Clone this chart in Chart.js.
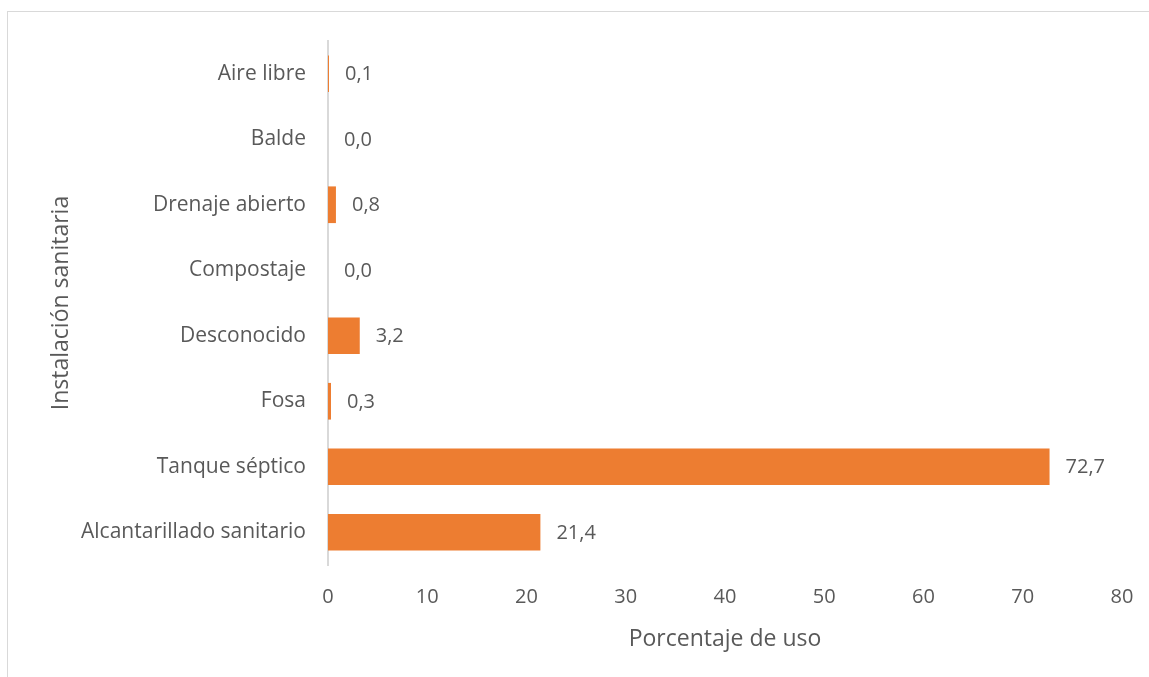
<!DOCTYPE html>
<html lang="es">
<head>
<meta charset="UTF-8">
<script src="https://cdn.jsdelivr.net/npm/chart.js"></script>
<title>Instalación sanitaria</title>
<style>
  body { margin: 0; background: #fff; }
  #wrap { position: relative; width: 1149px; height: 677px; }
  #frame { position: absolute; left: 7px; top: 11px; width: 1150px; height: 680px; border: 1px solid #d9d9d9; box-sizing: border-box; }
  canvas { position: absolute; left: 0; top: 0; }
</style>
</head>
<body>
<div id="wrap">
  <div id="frame"></div>
  <canvas id="myChart" width="1149" height="677"></canvas>
</div>
<script>
var categories = ['Aire libre', 'Balde', 'Drenaje abierto', 'Compostaje', 'Desconocido', 'Fosa', 'Tanque séptico', 'Alcantarillado sanitario'];
var usage = [0.1, 0.0, 0.8, 0.0, 3.2, 0.3, 72.7, 21.4];
var xTicks = [0, 10, 20, 30, 40, 50, 60, 70, 80];

var fontName = '"Open Sans", sans-serif';
var textColor = '#595959';

// draw the value next to every bar
var valueLabels = {
    id: 'valueLabels',
    afterDatasetsDraw: function (chart) {
        var ctx = chart.ctx;
        var meta = chart.getDatasetMeta(0);
        ctx.save();
        ctx.font = '20px ' + fontName;
        ctx.fillStyle = textColor;
        ctx.textAlign = 'left';
        ctx.textBaseline = 'middle';
        meta.data.forEach(function (bar, i) {
            var txt = usage[i].toFixed(1).replace('.', ',');
            ctx.fillText(txt, bar.x + 16, bar.y + 1);
        });
        ctx.restore();
    }
};

var ctx = document.getElementById('myChart').getContext('2d');
var chart = new Chart(ctx, {
    type: 'bar',
    data: {
        labels: categories,
        datasets: [{
            data: usage,
            backgroundColor: '#ED7D31',
            borderWidth: 0,
            categoryPercentage: 1,
            barPercentage: 0.56
        }]
    },
    options: {
        indexAxis: 'y',
        responsive: false,
        animation: false,
        layout: { padding: { top: 41, right: 27, left: 0, bottom: 0 } },
        plugins: { legend: { display: false }, tooltip: { enabled: false } },
        scales: {
            x: {
                min: 0,
                max: 80,
                afterBuildTicks: function (s) { s.ticks = xTicks.map(function (v) { return { value: v }; }); },
                grid: { display: false, drawTicks: false },
                border: { display: false },
                ticks: { color: textColor, font: { family: fontName, size: 20 }, padding: 20 },
                title: { display: true, text: 'Porcentaje de uso', color: textColor, font: { family: fontName, size: 23 }, padding: { top: 4, bottom: 24 } },
                afterFit: function (s) { s.height = 112; s.paddingRight = 0; s.paddingLeft = 0; }
            },
            y: {
                grid: { display: false, drawTicks: false },
                border: { display: true, color: '#d9d9d9', width: 2 },
                ticks: { color: textColor, font: { family: fontName, size: 21 }, padding: 22 },
                title: { display: true, text: 'Instalación sanitaria', color: textColor, font: { family: fontName, size: 23 }, padding: { top: 48, bottom: 0 } },
                afterFit: function (s) { s.width = 328; }
            }
        }
    },
    plugins: [valueLabels]
});
</script>
</body>
</html>
